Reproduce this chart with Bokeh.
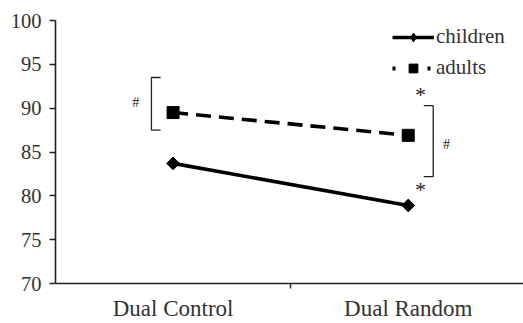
from bokeh.plotting import figure
from bokeh.models import FixedTicker, Legend, LegendItem, Range1d
from bokeh.core.properties import value
from bokeh.embed import file_html
from bokeh.resources import INLINE
import numpy as np

# ---- data ----
categories = ["Dual Control", "Dual Random"]
children = [83.7, 78.9]
adults = [89.5, 86.9]
y_ticks = [70, 75, 80, 85, 90, 95, 100]

# significance annotations (data units)
bracket_x = [0.408, 1.606]
bracket_tick_x = [0.447, 1.566]
bracket_top = [93.5, 90.3]
bracket_bottom = [87.5, 82.2]
hash_x = [0.341, 1.663]
hash_y = [90.7, 85.9]
star_x = [1.552, 1.552]
star_y = [91.8, 80.9]

FONT = "Liberation Serif"
TXT = "#333333"

xpos = [i + 0.5 for i in range(len(categories))]

p = figure(width=523, height=323, output_backend="svg", toolbar_location=None,
           x_range=Range1d(0, 1.99), y_range=Range1d(70, 100),
           min_border_left=55, min_border_right=0, min_border_top=20, min_border_bottom=39)
p.outline_line_color = None
p.xgrid.visible = False
p.ygrid.visible = False

# y axis
ya = p.yaxis[0]
ya.ticker = FixedTicker(ticks=y_ticks)
ya.axis_line_color = "#222222"
ya.axis_line_width = 1.6
ya.major_tick_line_color = "#222222"
ya.major_tick_line_width = 1.4
ya.major_tick_out = 6
ya.major_tick_in = 0
ya.minor_tick_line_color = None
ya.minor_tick_out = 0
ya.minor_tick_in = 0
ya.major_label_standoff = 8
ya.major_label_text_font = FONT
ya.major_label_text_font_size = "20.5px"
ya.major_label_text_color = TXT

# x axis
xa = p.xaxis[0]
xa.ticker = FixedTicker(ticks=xpos, minor_ticks=[1.0])
xa.major_label_overrides = {x: c for x, c in zip(xpos, categories)}
xa.axis_line_color = "#222222"
xa.axis_line_width = 1.6
xa.major_tick_line_color = None
xa.major_tick_out = 0
xa.major_tick_in = 0
xa.minor_tick_line_color = "#222222"
xa.minor_tick_line_width = 1.4
xa.minor_tick_out = 5
xa.minor_tick_in = 0
xa.major_label_standoff = 7
xa.major_label_text_font = FONT
xa.major_label_text_font_size = "23px"
xa.major_label_text_color = TXT

# series
cl = p.line(xpos, children, line_color="black", line_width=3.6)
cm = p.scatter(xpos, children, marker="square", angle=np.pi / 4, size=9,
               fill_color="black", line_color="black")
al = p.line(xpos, adults, line_color="black", line_width=3.6, line_dash="15 8")
am = p.scatter(xpos, adults, marker="square", size=12,
               fill_color="black", line_color="black")

# legend-only glyphs
leg_dia = p.scatter([np.nan], [np.nan], marker="diamond", size=12,
                    fill_color="black", line_color="black")
leg_dot = p.line([np.nan, np.nan], [np.nan, np.nan], line_color="black", line_width=4,
                 line_dash="3 32")

# brackets
xs, ys = [], []
for bx, tx, t, b in zip(bracket_x, bracket_tick_x, bracket_top, bracket_bottom):
    xs.append([tx, bx, bx, tx])
    ys.append([t, t, b, b])
p.multi_line(xs, ys, line_color="#222222", line_width=1.3)

p.text(hash_x, hash_y, text=["#", "#"], text_font=value(FONT), text_font_size="14px",
       text_align="center", text_baseline="middle", text_color="#222222")
p.text(star_x, star_y, text=["*", "*"], text_font=value(FONT), text_font_size="22px",
       text_align="center", text_baseline="middle", text_color="#222222", y_offset=2)

legend = Legend(items=[LegendItem(label="children", renderers=[cl, leg_dia]),
                       LegendItem(label="adults", renderers=[leg_dot, am])],
                location=(337, 203))
legend.background_fill_alpha = 0
legend.border_line_color = None
legend.padding = 0
legend.margin = 0
legend.spacing = 6
legend.glyph_width = 42
legend.glyph_height = 22
legend.label_height = 24
legend.label_standoff = 2
legend.label_text_font = FONT
legend.label_text_font_size = "21px"
legend.label_text_color = TXT
p.add_layout(legend)

open("out.html", "w").write(file_html(p, INLINE))
